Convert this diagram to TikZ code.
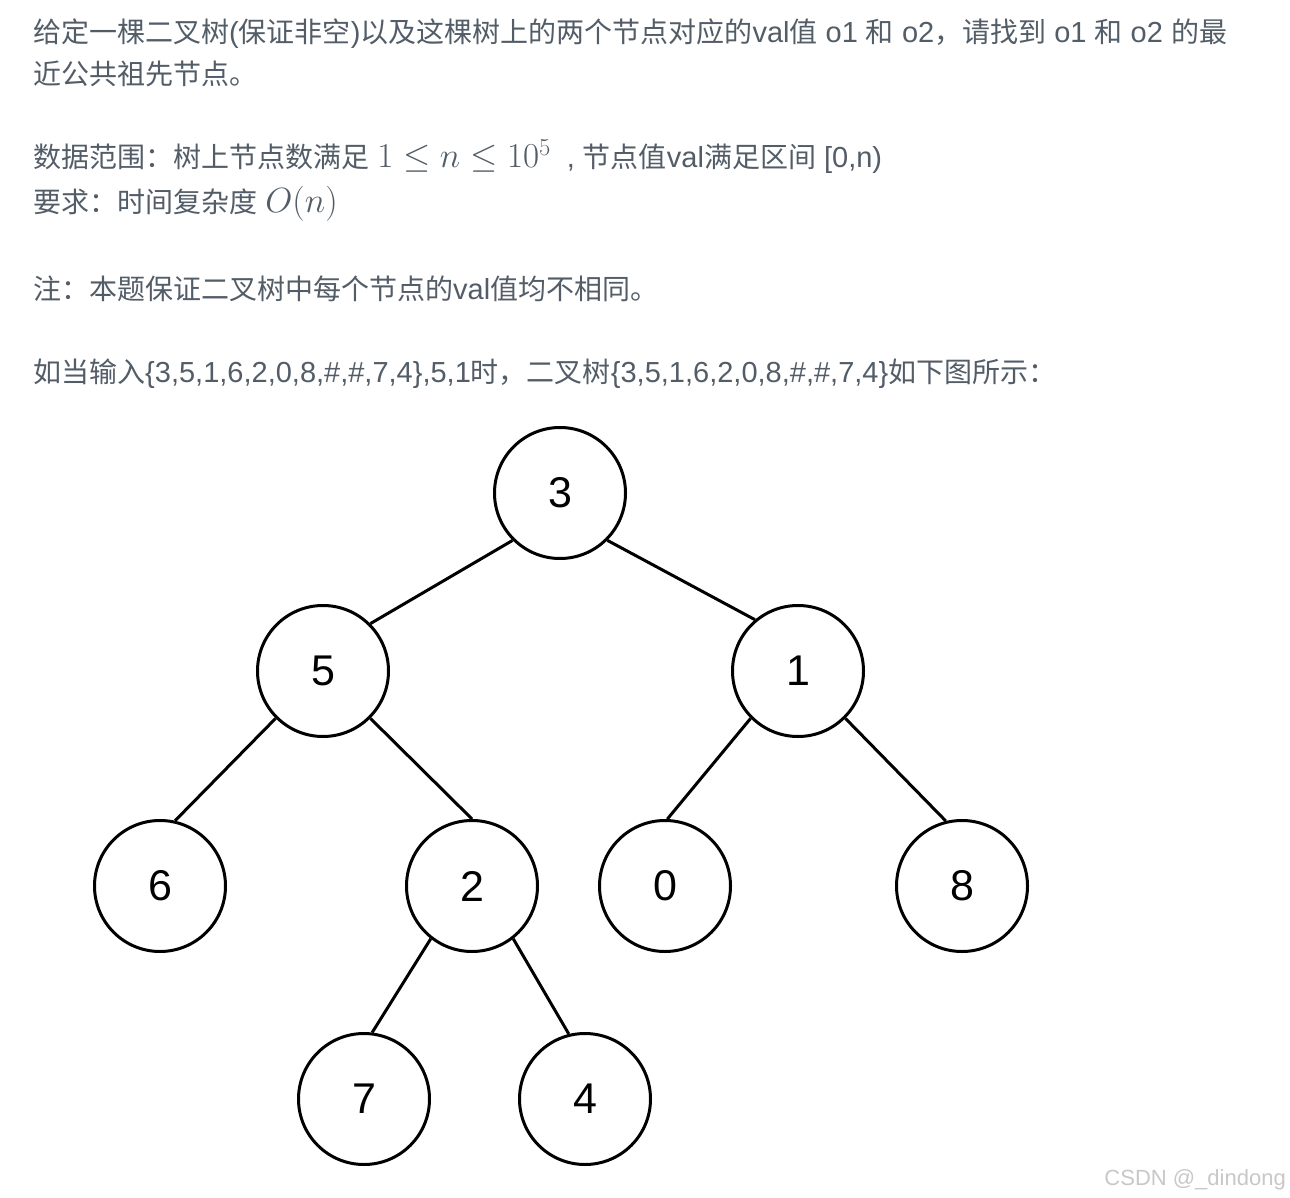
\RequirePackage{fix-cm}
\documentclass[tikz,border=0pt]{standalone}
\usepackage{fontspec}
\setmainfont{Liberation Sans}
\newfontfamily\cjk{Noto Sans CJK SC}
\newfontfamily\digitfont{Liberation Sans}
\newcommand{\C}[1]{{\cjk\fontsize{28}{42}\selectfont #1}}
\newcommand{\bigmath}[1]{{\fontsize{35}{42}\selectfont$#1$}}
\definecolor{txtgray}{RGB}{83,93,104}
\definecolor{wmgray}{RGB}{200,200,200}
\begin{document}
\begin{tikzpicture}[x=1pt,y=-1pt,
  tnode/.style={circle,draw=black,line width=3pt,minimum size=131pt,inner sep=0pt,font=\digitfont\fontsize{43}{43}\selectfont},
  tedge/.style={draw=black,line width=3pt},
  para/.style={anchor=base west,inner sep=0pt,text=txtgray,font=\fontsize{29}{42}\selectfont}]
\useasboundingbox[fill=white] (0,0) rectangle (1290,1198);
% text
\node[para] (l1) at (33,43) {\C{给定一棵二叉树}(\C{保证非空})\C{以及这棵树上的两个节点对应的}val\C{值} o1 \C{和} o2\C{，请找到} o1 \C{和} o2 \C{的最}};
\node[para] (l2) at (33,85) {\C{近公共祖先节点。}};
\node[para] (l3) at (33,168) {\C{数据范围：树上节点数满足} \bigmath{1 \le n \le 10^5}\hspace{16pt},\hspace{8pt}\C{节点值}val\C{满足区间} [0,n)};
\node[para] (l4) at (33,213) {\C{要求：时间复杂度} \bigmath{O(n)}};
\node[para] (l5) at (33,299) {\C{注：本题保证二叉树中每个节点的}val\C{值均不相同。}};
\node[para] (l6) at (33,382) {\C{如当输入}\{3,5,1,6,2,0,8,\#,\#,7,4\},5,1\C{时，二叉树}\{3,5,1,6,2,0,8,\#,\#,7,4\}\C{如下图所示：}};
% tree
\node[tnode] (n3) at (560,493) {3};
\node[tnode] (n5) at (323,671) {5};
\node[tnode] (n1) at (798,671) {1};
\node[tnode] (n6) at (160,886) {6};
\node[tnode] (n2) at (472,886) {2};
\node[tnode] (n0) at (665,886) {0};
\node[tnode] (n8) at (962,886) {8};
\node[tnode] (n7) at (364,1099) {7};
\node[tnode] (n4) at (585,1099) {4};
\path[tedge] (n3.225) -- (n5.45);
\path[tedge] (n3.315) -- (n1.130);
\path[tedge] (n5.225) -- (n6.77);
\path[tedge] (n5.315) -- (n2.90);
\path[tedge] (n1.225) -- (n0.88);
\path[tedge] (n1.315) -- (n8.104);
\path[tedge] (n2.232) -- (n7.83);
\path[tedge] (n2.308) -- (n4.104);
% watermark
\node[anchor=base east,inner sep=0pt,text=wmgray,font=\digitfont\fontsize{22}{22}\selectfont] (wm) at (1286,1185) {CSDN @\_dindong};
\end{tikzpicture}
\end{document}
